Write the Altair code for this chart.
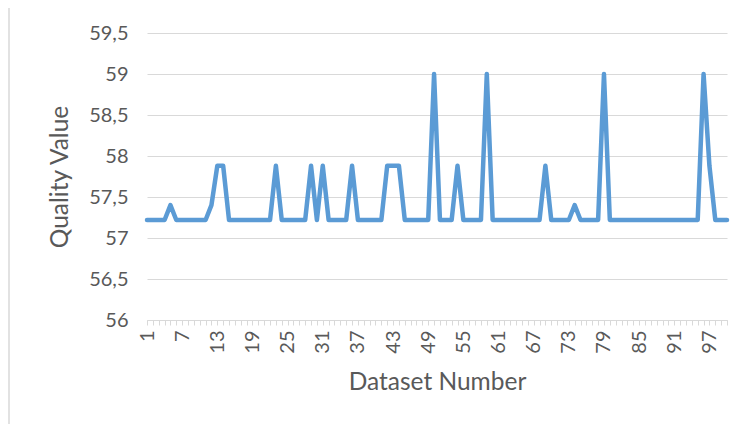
import altair as alt
import pandas as pd

# Categories (dataset numbers 1..100)
dataset = list(range(1, 101))

# Quality value of each dataset
quality = [
    57.22, 57.22, 57.22, 57.22, 57.40, 57.22, 57.22, 57.22, 57.22, 57.22,
    57.22, 57.40, 57.88, 57.88, 57.22, 57.22, 57.22, 57.22, 57.22, 57.22,
    57.22, 57.22, 57.88, 57.22, 57.22, 57.22, 57.22, 57.22, 57.88, 57.22,
    57.88, 57.22, 57.22, 57.22, 57.22, 57.88, 57.22, 57.22, 57.22, 57.22,
    57.22, 57.88, 57.88, 57.88, 57.22, 57.22, 57.22, 57.22, 57.22, 59.00,
    57.22, 57.22, 57.22, 57.88, 57.22, 57.22, 57.22, 57.22, 59.00, 57.22,
    57.22, 57.22, 57.22, 57.22, 57.22, 57.22, 57.22, 57.22, 57.88, 57.22,
    57.22, 57.22, 57.22, 57.40, 57.22, 57.22, 57.22, 57.22, 59.00, 57.22,
    57.22, 57.22, 57.22, 57.22, 57.22, 57.22, 57.22, 57.22, 57.22, 57.22,
    57.22, 57.22, 57.22, 57.22, 57.22, 59.00, 57.88, 57.22, 57.22, 57.22,
]

# Tick labels
x_label_values = [1, 7, 13, 19, 25, 31, 37, 43, 49, 55, 61, 67, 73, 79, 85, 91, 97]
y_ticks = [56, 56.5, 57, 57.5, 58, 58.5, 59, 59.5]

df = pd.DataFrame({"Dataset": dataset, "Quality": quality})

GRID = "#D9D9D9"
TEXT = "#595959"
FONT = "Lato"

label_list = "[" + ",".join(str(v) for v in x_label_values) + "]"

line = alt.Chart(df).mark_line(
    color="#5B9BD5", strokeWidth=4.5, strokeJoin="round", strokeCap="round"
).encode(
    x=alt.X(
        "Dataset:Q",
        scale=alt.Scale(domain=[1, 100], nice=False, zero=False),
        axis=alt.Axis(
            values=dataset,
            labelExpr=f"indexof({label_list}, datum.value) >= 0 ? datum.label : ''",
            labelAngle=-90,
            labelOverlap=False,
            labelPadding=5,
            tickSize=5,
            tickColor=GRID,
            domainColor=GRID,
            grid=False,
            title="Dataset Number",
            titlePadding=17,
        ),
    ),
    y=alt.Y(
        "Quality:Q",
        scale=alt.Scale(domain=[56, 59.5], nice=False, zero=False),
        axis=alt.Axis(
            values=y_ticks,
            labelExpr="replace(format(datum.value, '.1~f'), '.', ',')",
            grid=True,
            gridColor=GRID,
            domain=False,
            ticks=False,
            labelPadding=19,
            title="Quality Value",
            titlePadding=16,
        ),
    ),
)

frame_src = alt.Chart(pd.DataFrame({"a": [0]}))
left_border = frame_src.mark_rule(color=GRID, strokeWidth=1.5).encode(
    x=alt.value(-138), y=alt.value(-30), y2=alt.value(420)
)
top_border = frame_src.mark_rule(color=GRID, strokeWidth=1.5).encode(
    x=alt.value(-138), x2=alt.value(620), y=alt.value(-30)
)

chart = alt.layer(left_border, top_border, line).properties(
    width=580,
    height=287,
    autosize="none",
    padding={"left": 139, "top": 25, "right": 12, "bottom": 104},
).configure_view(stroke=None).configure_axis(
    labelFont=FONT,
    titleFont=FONT,
    labelFontSize=20,
    titleFontSize=24.5,
    labelColor=TEXT,
    titleColor=TEXT,
    titleFontWeight="normal",
)

chart.save("out.html", embed_options={"renderer": "svg", "actions": False})
